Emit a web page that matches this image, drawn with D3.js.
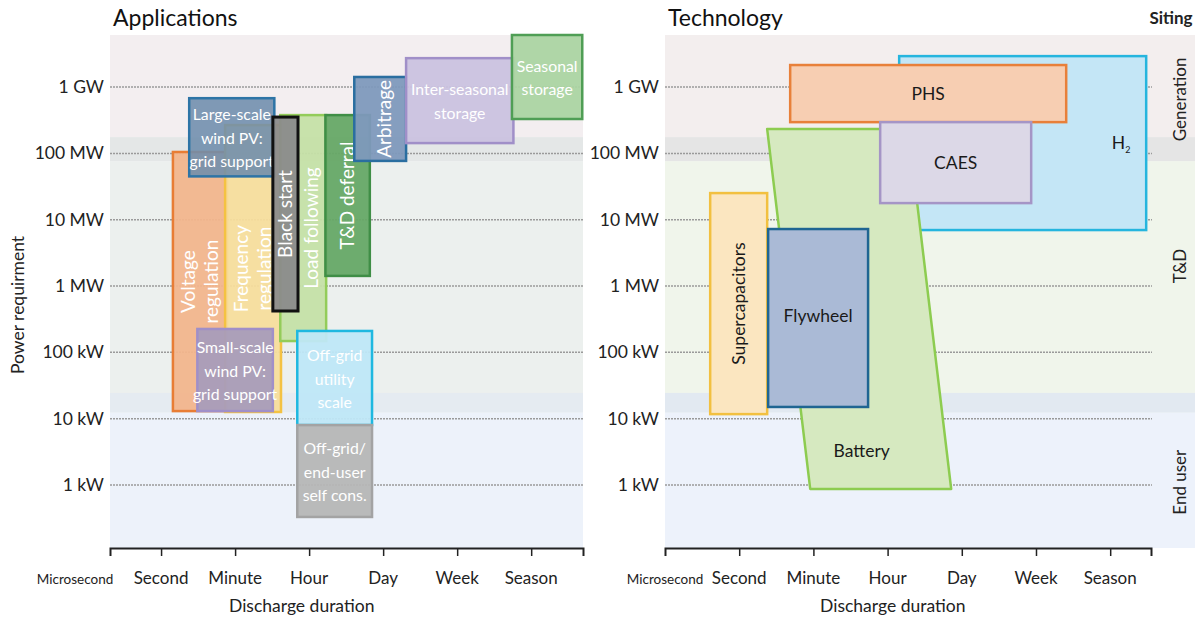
<!DOCTYPE html>
<html>
<head>
<meta charset="utf-8">
<script src="https://cdn.jsdelivr.net/npm/d3@7"></script>
<style>
  body { margin: 0; background: #fff; }
  svg { font-family: Lato, "Open Sans", sans-serif; }
</style>
</head>
<body>
<div id="chart"></div>
<script>
// Data: duration on an index (Second = 1 ... Season = 6), power in watts

const durationTicks = ['Microsecond', 'Second', 'Minute', 'Hour', 'Day', 'Week', 'Season']
const durationTickValues = [0, 1, 2, 3, 4, 5, 6]
const powerTicks = [1e3, 1e4, 1e5, 1e6, 1e7, 1e8, 1e9]
const powerTickLabels = ['1 kW', '10 kW', '100 kW', '1 MW', '10 MW', '100 MW', '1 GW']

// siting zones: [label, top W, bottom W]
const sitingZones = [
  ['Generation', 6.1e9, 1.76e8],
  ['T&D', 7.66e7, 2.44e4],
  ['End user', 1.23e4, 112],
]
const sitingGaps = [[1.76e8, 7.66e7], [2.44e4, 1.23e4]]

// applications: [name, label lines, d0, d1, pTop, pBottom]
const applications = [
  ['voltage', ['Voltage', 'regulation'], 1.16, 1.89, 1.05e8, 1.3e4],
  ['frequency', ['Frequency', 'regulation'], 1.865, 2.62, 2.67e8, 1.26e4],
  ['largeScale', ['Large-scale', 'wind PV:', 'grid support'], 1.38, 2.53, 6.8e8, 4.5e7],
  ['loadFollowing', ['Load following'], 2.61, 3.23, 3.78e8, 1.48e5],
  ['blackStart', ['Black start'], 2.51, 2.85, 3.53e8, 4.2e5],
  ['tdDeferral', ['T&D deferral'], 3.22, 3.82, 3.78e8, 1.42e6],
  ['arbitrage', ['Arbitrage'], 3.61, 4.31, 1.42e9, 7.7e7],
  ['interSeasonal', ['Inter-seasonal', 'storage'], 4.31, 5.76, 2.73e9, 1.43e8],
  ['seasonal', ['Seasonal', 'storage'], 5.74, 6.69, 6.1e9, 3.3e8],
  ['smallScale', ['Small-scale', 'wind PV:', 'grid support'], 1.49, 2.51, 2.25e5, 1.3e4],
  ['offGridUtility', ['Off-grid', 'utility', 'scale'], 2.84, 3.85, 2.1e5, 8.0e3],
  ['offGridEndUser', ['Off-grid/', 'end-user', 'self cons.'], 2.84, 3.85, 8.0e3, 329],
]

// technologies: [name, label, d0, d1, pTop, pBottom]
const technologies = [
  ['h2', 'H2', 3.156, 6.485, 2.93e9, 6.98e6],
  ['phs', 'PHS', 1.687, 5.407, 2.15e9, 2.96e8],
  ['caes', 'CAES', 2.9, 4.935, 2.96e8, 1.78e7],
  ['supercap', 'Supercapacitors', 0.609, 1.377, 2.52e7, 1.17e4],
  ['flywheel', 'Flywheel', 1.39, 2.737, 7.23e6, 1.5e4],
]
// battery is a slanted band: [duration, power] corners
const batteryCorners = [[1.377, 2.33e8], [3.28, 2.33e8], [3.857, 871], [1.957, 871]]

const COLORS = {
  voltage: ['#f2b58c', '#e87d35'],
  frequency: ['#f7dd9c', '#f4c242'],
  largeScale: ['#6e8dac', '#2d74a6'],
  loadFollowing: ['#c5e0a7', '#93cc5a'],
  blackStart: ['#8b8b8b', '#111111'],
  tdDeferral: ['#66a866', '#3f8e46'],
  arbitrage: ['#7e99bc', '#2a6ea0'],
  interSeasonal: ['#cac2df', '#a08fc8'],
  seasonal: ['#abd4a2', '#4f9e55'],
  smallScale: ['#a89cba', '#a08fc8'],
  offGridUtility: ['#bfe7f7', '#1fb8e0'],
  offGridEndUser: ['#b6b6b6', '#a3a3a3'],
  h2: ['#c4e6f6', '#25b5de'],
  phs: ['#f7ceb2', '#e8803a'],
  caes: ['#dcd8e7', '#a595c6'],
  battery: ['#d6e9c0', '#8dcc50'],
  supercap: ['#fbe6c0', '#f2c040'],
  flywheel: ['#aabad6', '#1f6592'],
}

const ZONE_FILL = {
  left: ['#f3eef0', '#ecf0ee', '#edf2fa'],
  right: ['#f3eeee', '#f0f5eb', '#edf2fb'],
}
const GAP_FILL = { left: ['#e4e7e7', '#e5ebf1'], right: ['#e5e5e5', '#e2e9f1'] }

// label nudges (px) where the text sits off-centre in its box
const LABEL_SHIFT = { loadFollowing: 8, arbitrage: 4 }

const W = 1195
const H = 617

const svg = d3.select('#chart').append('svg').attr('width', W).attr('height', H)

const y = d3.scaleLog().domain([112, 6.1e9]).range([548, 35])

const left = {
  key: 'left',
  title: 'Applications',
  x: d3.scaleLinear().domain([0.31, 6.7]).range([110, 583]),
  bgRight: 583,
  gridRight: 583,
  labelX: 104,
  microShift: -35,
  axisTitleAt: 2.9,
}
const right = {
  key: 'right',
  title: 'Technology',
  x: d3.scaleLinear().domain([0, 6.55]).range([665, 1151]),
  bgRight: W,
  gridRight: 1152,
  labelX: 659,
  microShift: 0,
  axisTitleAt: 3.07,
}

drawFrame(left)
drawApplications(left)
drawAxes(left)

drawFrame(right)
drawTechnologies(right)
drawAxes(right)
drawSiting(right)

svg.append('text')
  .attr('transform', `translate(24,305) rotate(-90)`)
  .attr('text-anchor', 'middle')
  .attr('font-size', 17.5)
  .attr('fill', '#222')
  .text('Power requirment')

function drawFrame(panel) {
  const { x } = panel
  const x0 = x.range()[0]
  const g = svg.append('g')

  sitingZones.forEach(([, top, bottom], i) => {
    g.append('rect')
      .attr('x', x0)
      .attr('y', y(top))
      .attr('width', panel.bgRight - x0)
      .attr('height', y(bottom) - y(top))
      .attr('fill', ZONE_FILL[panel.key][i])
  })
  sitingGaps.forEach(([top, bottom], i) => {
    g.append('rect')
      .attr('x', x0)
      .attr('y', y(top))
      .attr('width', panel.bgRight - x0)
      .attr('height', y(bottom) - y(top))
      .attr('fill', GAP_FILL[panel.key][i])
  })

  // dotted grid
  g.selectAll('line.grid')
    .data(powerTicks)
    .join('line')
    .attr('x1', x0)
    .attr('x2', panel.gridRight)
    .attr('y1', (d) => y(d))
    .attr('y2', (d) => y(d))
    .attr('stroke', '#9a9a9a')
    .attr('stroke-width', 1.5)
    .attr('stroke-dasharray', '2,1')

  svg.append('text')
    .attr('x', x0 + 3)
    .attr('y', 26)
    .attr('font-size', 23)
    .attr('fill', '#111')
    .text(panel.title)
}

function drawAxes(panel) {
  const { x } = panel

  const axis = d3.axisBottom(x)
    .tickValues(durationTickValues.slice(1))
    .tickSize(8)
    .tickSizeOuter(8)
    .tickFormat(() => '')

  const gx = svg.append('g').attr('transform', 'translate(0,548)').call(axis)
  gx.select('.domain').attr('stroke', '#222').attr('stroke-width', 2)
  gx.selectAll('.tick line').attr('stroke', '#222').attr('stroke-width', 1.5)

  svg.append('g')
    .selectAll('text')
    .data(durationTicks)
    .join('text')
    .attr('x', (d, i) => (i === 0 ? x.range()[0] + panel.microShift : x(durationTickValues[i])))
    .attr('y', 584)
    .attr('text-anchor', 'middle')
    .attr('font-size', (d, i) => (i === 0 ? 13.5 : 17))
    .attr('fill', '#222')
    .text((d) => d)

  svg.append('text')
    .attr('x', x(panel.axisTitleAt))
    .attr('y', 612)
    .attr('text-anchor', 'middle')
    .attr('font-size', 17.5)
    .attr('fill', '#222')
    .text('Discharge duration')

  svg.append('g')
    .selectAll('text')
    .data(powerTicks)
    .join('text')
    .attr('x', panel.labelX)
    .attr('y', (d) => y(d) + 6)
    .attr('text-anchor', 'end')
    .attr('font-size', 17.5)
    .attr('fill', '#222')
    .text((d, i) => powerTickLabels[i])
}

function drawApplications(panel) {
  const { x } = panel
  const vertical = ['voltage', 'frequency', 'loadFollowing', 'blackStart', 'tdDeferral', 'arbitrage']

  applications.forEach(([name, lines, d0, d1, pTop, pBottom]) => {
    const [fill, stroke] = COLORS[name]
    const g = svg.append('g')
    g.append('rect')
      .attr('x', x(d0))
      .attr('y', y(pTop))
      .attr('width', x(d1) - x(d0))
      .attr('height', y(pBottom) - y(pTop))
      .attr('fill', fill)
      .attr('fill-opacity', name === 'largeScale' ? 0.88 : 0.95)
      .attr('stroke', stroke)
      .attr('stroke-width', name === 'blackStart' ? 3 : 2.5)

    const cx = (x(d0) + x(d1)) / 2 + (LABEL_SHIFT[name] || 0)
    const cy = (y(pTop) + y(pBottom)) / 2
    const isVertical = vertical.includes(name)
    const lh = isVertical ? 23 : 23.5

    g.append('text')
      .attr('transform', `translate(${cx},${cy})` + (isVertical ? ' rotate(-90)' : ''))
      .attr('text-anchor', 'middle')
      .attr('font-size', isVertical ? 19 : 15.8)
      .attr('fill', '#fff')
      .selectAll('tspan')
      .data(lines)
      .join('tspan')
      .attr('x', 0)
      .attr('y', (d, i) => (i - (lines.length - 1) / 2) * lh + 6.5)
      .text((d) => d)
  })
}

function drawTechnologies(panel) {
  const { x } = panel
  const byName = Object.fromEntries(technologies.map((t) => [t[0], t]))

  const box = (name) => {
    const [, , d0, d1, pTop, pBottom] = byName[name]
    const [fill, stroke] = COLORS[name]
    svg.append('rect')
      .attr('x', x(d0))
      .attr('y', y(pTop))
      .attr('width', x(d1) - x(d0))
      .attr('height', y(pBottom) - y(pTop))
      .attr('fill', fill)
      .attr('stroke', stroke)
      .attr('stroke-width', 2.5)
    return { cx: (x(d0) + x(d1)) / 2, cy: (y(pTop) + y(pBottom)) / 2, x1: x(d1), y0: y(pTop), y1: y(pBottom) }
  }

  const label = (px, py, text, rotate) =>
    svg.append('text')
      .attr('transform', `translate(${px},${py})` + (rotate ? ' rotate(-90)' : ''))
      .attr('text-anchor', 'middle')
      .attr('font-size', 17.5)
      .attr('fill', '#1a1a1a')
      .text(text)

  const h2 = box('h2')
  svg.append('text')
    .attr('x', h2.x1 - 25)
    .attr('y', h2.y0 + 93)
    .attr('text-anchor', 'middle')
    .attr('font-size', 17.5)
    .attr('fill', '#1a1a1a')
    .text('H')
    .append('tspan')
    .attr('font-size', 9)
    .attr('dy', 4)
    .text('2')

  const phs = box('phs')
  label(phs.cx, phs.cy + 6, 'PHS')

  svg.append('path')
    .attr('d', d3.line().x((d) => x(d[0])).y((d) => y(d[1])).curve(d3.curveLinearClosed)(batteryCorners))
    .attr('fill', COLORS.battery[0])
    .attr('stroke', COLORS.battery[1])
    .attr('stroke-width', 2.5)
    .attr('stroke-linejoin', 'round')
  label(x(2.65), y(3.2e3) + 6, 'Battery')

  const caes = box('caes')
  label(caes.cx, caes.cy + 6, 'CAES')

  const sc = box('supercap')
  label(sc.cx + 6, sc.cy, 'Supercapacitors', true)

  const fw = box('flywheel')
  label(fw.cx, fw.cy + 4, 'Flywheel')
}

function drawSiting(panel) {
  svg.append('text')
    .attr('x', 1171)
    .attr('y', 24)
    .attr('text-anchor', 'middle')
    .attr('font-size', 17)
    .attr('font-weight', 'bold')
    .attr('fill', '#222')
    .text('Siting')

  const centers = [6.5e8, 2.0e6, 1.1e3]
  sitingZones.forEach(([name], i) => {
    svg.append('text')
      .attr('transform', `translate(1186,${y(centers[i])}) rotate(-90)`)
      .attr('text-anchor', 'middle')
      .attr('font-size', 17)
      .attr('fill', '#222')
      .text(name)
  })
}
</script>
</body>
</html>
